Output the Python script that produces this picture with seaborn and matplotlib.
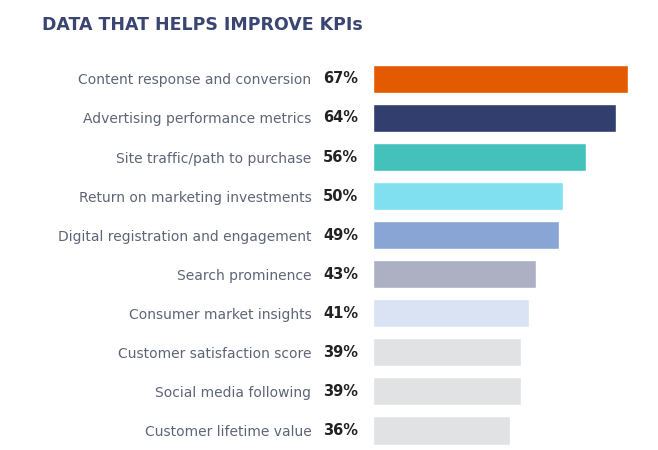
import matplotlib
matplotlib.use("Agg")
import matplotlib.pyplot as plt
import seaborn as sns
import pandas as pd

# data
categories = ["Content response and conversion", "Advertising performance metrics",
              "Site traffic/path to purchase", "Return on marketing investments",
              "Digital registration and engagement", "Search prominence",
              "Consumer market insights", "Customer satisfaction score",
              "Social media following", "Customer lifetime value"]
values = [67, 64, 56, 50, 49, 43, 41, 39, 39, 36]
colors = ["#E35A00", "#323F6E", "#45C1BC", "#80E0F0", "#88A5D5",
          "#ABB0C3", "#DAE3F3", "#E1E2E4", "#E1E2E4", "#E1E2E4"]

df = pd.DataFrame({"kpi": categories, "pct": values})

sns.set_style("white")
plt.rcParams["font.family"] = ["DejaVu Sans"]

fig = plt.figure(figsize=(6.58, 4.5), dpi=100)
ax = fig.add_axes([0.567, 0.0, 0.406, 0.868])

sns.barplot(data=df, x="pct", y="kpi", hue="kpi", palette=colors,
            saturation=1, legend=False, orient="h", width=0.72, ax=ax)

ax.set_xlim(0, 70.3)
ax.set_ylim(9.5, -0.5)
ax.set_xlabel("")
ax.set_ylabel("")
ax.set_xticks([])
sns.despine(ax=ax, left=True, bottom=True)
ax.tick_params(axis="y", length=0, pad=44.5, labelsize=10, labelcolor="#5F6577")

# bold percentage labels between category names and bars
for i, v in enumerate(values):
    ax.annotate(f"{v}%", xy=(0, i), xytext=(-36, 0), textcoords="offset points",
                ha="left", va="center", fontsize=10.5, fontweight="bold",
                color="#222222")

fig.text(42 / 658, 1 - 25 / 450, "DATA THAT HELPS IMPROVE KPIs", ha="left",
         va="center", fontsize=12.5, fontweight="bold", color="#3A4572")

fig.savefig("out.png", dpi=100)
